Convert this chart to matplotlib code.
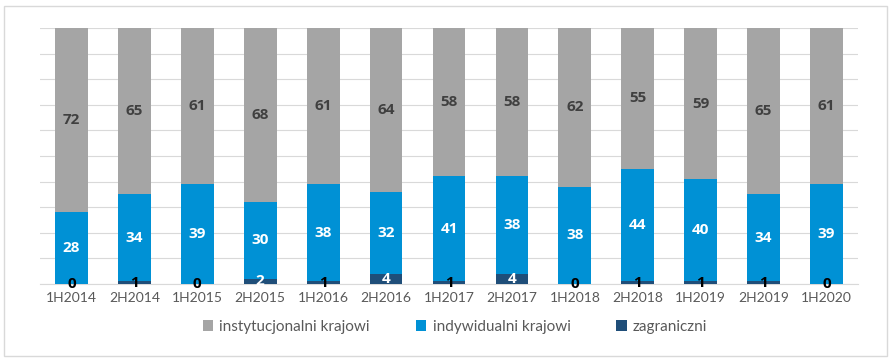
import numpy as np
import matplotlib.pyplot as plt
from matplotlib.patches import Rectangle

periods = ["1H2014", "2H2014", "1H2015", "2H2015", "1H2016", "2H2016", "1H2017",
           "2H2017", "1H2018", "2H2018", "1H2019", "2H2019", "1H2020"]
zagraniczni = [0, 1, 0, 2, 1, 4, 1, 4, 0, 1, 1, 1, 0]
indywidualni = [28, 34, 39, 30, 38, 32, 41, 38, 38, 44, 40, 34, 39]
instytucjonalni = [72, 65, 61, 68, 61, 64, 58, 58, 62, 55, 59, 65, 61]

c_inst = "#A5A5A5"
c_indy = "#0091D5"
c_zagr = "#1F4E79"

plt.rcParams['font.family'] = ['Lato', 'DejaVu Sans']

fig = plt.figure(figsize=(8.93, 3.62), dpi=100)
ax = fig.add_axes([40 / 893, 1 - 284 / 362, 818 / 893, 256 / 362])

x = np.arange(len(periods))
zag = np.array(zagraniczni)
ind = np.array(indywidualni)
ins = np.array(instytucjonalni)
w = 0.52

b1 = ax.bar(x, zag, w, color=c_zagr, label="zagraniczni", zorder=3)
b2 = ax.bar(x, ind, w, bottom=zag, color=c_indy, label="indywidualni krajowi", zorder=3)
b3 = ax.bar(x, ins, w, bottom=zag + ind, color=c_inst, label="instytucjonalni krajowi", zorder=3)

lab = dict(ha="center", va="center", fontsize=11, fontweight="bold",
           family="Open Sans", zorder=4)
for i in range(len(x)):
    col = "black" if zag[i] < 2 else "white"
    ax.text(x[i], zag[i] / 2, str(zag[i]), color=col, **lab)
    ax.text(x[i], zag[i] + ind[i] / 2, str(ind[i]), color="white", **lab)
    ax.text(x[i], zag[i] + ind[i] + ins[i] / 2, str(ins[i]), color="#404040", **lab)

ax.set_xlim(-0.5, len(x) - 0.5)
ax.set_ylim(0, 100)
ax.set_yticks(np.arange(0, 101, 10))
ax.set_yticklabels([])
ax.yaxis.grid(True, color="#D9D9D9", linewidth=0.8, zorder=0)
ax.tick_params(axis="y", length=0)
ax.tick_params(axis="x", length=0, pad=6, labelsize=10, labelcolor="#595959")
ax.set_xticks(x)
ax.set_xticklabels(periods)
for s in ["top", "right", "left"]:
    ax.spines[s].set_visible(False)
ax.spines["bottom"].set_color("#D9D9D9")

handles = [b3, b2, b1]
fig.legend(handles, [h.get_label() for h in handles], loc="center",
           bbox_to_anchor=(455 / 893, 1 - 327 / 362), ncol=3, frameon=False,
           fontsize=11, handlelength=0.7, handleheight=0.7, columnspacing=3.0,
           handletextpad=0.4, labelcolor="#595959")

fig.patches.append(Rectangle((4 / 893, 6 / 362), 883 / 893, 350 / 362,
                             transform=fig.transFigure, fill=False,
                             edgecolor="#D9D9D9", linewidth=1))

fig.savefig("out.png", dpi=100)
